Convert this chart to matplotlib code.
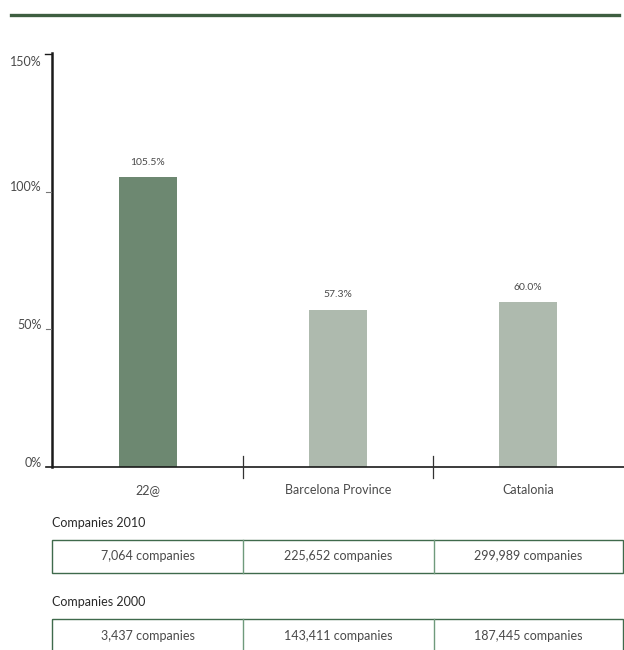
import matplotlib.pyplot as plt
from matplotlib.lines import Line2D
from matplotlib.patches import Rectangle

plt.rcParams['font.family'] = ['Lato', 'DejaVu Sans']

categories = ['22@', 'Barcelona Province', 'Catalonia']
growth = [105.5, 57.3, 60.0]
bar_colors = ['#6d8871', '#aebaae', '#aebaae']
yticks = [0, 50, 100, 150]
companies_2010 = ['7,064 companies', '225,652 companies', '299,989 companies']
companies_2000 = ['3,437 companies', '143,411 companies', '187,445 companies']

W, H = 624, 650
fig = plt.figure(figsize=(W / 100, H / 100), dpi=100)
txt = '#4a4a4a'

# main chart axes (pixel layout)
ax = fig.add_axes([53 / W, (H - 467) / H, 570 / W, 412 / H])
x = range(len(categories))
ax.bar(x, growth, width=0.305, color=bar_colors, zorder=2)
for i, v in enumerate(growth):
    ax.text(i, v + 5.5, f'{v:.1f}%', ha='center', va='center', fontsize=7.5, color=txt)

ax.set_xlim(-0.5, len(categories) - 0.5)
ax.set_ylim(0, 150)
for s in ['top', 'right', 'bottom', 'left']:
    ax.spines[s].set_visible(False)
ax.set_xticks([])
ax.set_yticks([])
ax.patch.set_alpha(0)

# overlay for lines and text in pixel coordinates
ov = fig.add_axes([0, 0, 1, 1])
ov.set_xlim(0, W)
ov.set_ylim(H, 0)
ov.axis('off')
ov.patch.set_alpha(0)

# top rule
ov.add_line(Line2D([11, 619], [14.5, 14.5], color='#3e5e40', lw=2.4))

# axes lines
ov.add_line(Line2D([51.5, 51.5], [467, 53], color='#1a1a1a', lw=1.8))
ov.add_line(Line2D([45, 51], [53.5, 53.5], color='#1a1a1a', lw=1.0))
for ty in [329, 192]:
    ov.add_line(Line2D([46, 51], [ty, ty], color='#777777', lw=0.8))
ov.add_line(Line2D([46, 624], [467, 467], color='#1a1a1a', lw=1.2))
for sx in [243, 433]:
    ov.add_line(Line2D([sx, sx], [456, 478], color='#333333', lw=0.9))

# y tick labels
for t, py in zip(yticks, [463, 325, 187, 62]):
    ov.text(42, py, f'{t}%', ha='right', va='center', fontsize=9, color=txt)

# category labels
for i, c in enumerate(categories):
    ov.text(148 + 190 * i, 490, c, ha='center', va='center', fontsize=9, color=txt)


def draw_table(top, label, values):
    ov.text(52, top - 17, label, ha='left', va='center', fontsize=9, color='#2a2a2a')
    ov.add_patch(Rectangle((52, top), 571, 33, fill=False, ec='#3f6a4c', lw=1.0))
    for sx in [243, 434]:
        ov.add_line(Line2D([sx, sx], [top, top + 33], color='#6f9a7c', lw=1.0))
    for i, v in enumerate(values):
        ov.text(148 + 190 * i, top + 16.5, v, ha='center', va='center', fontsize=9,
                color=txt)


draw_table(540, 'Companies 2010', companies_2010)
draw_table(619, 'Companies 2000', companies_2000)

fig.savefig('out.png', dpi=100)
